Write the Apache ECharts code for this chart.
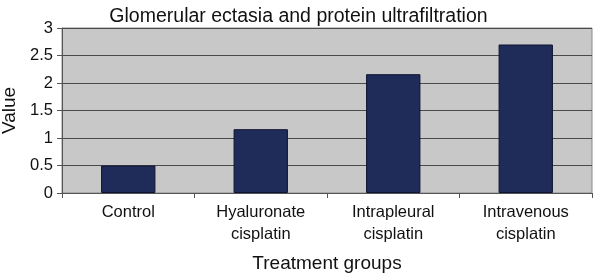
<!DOCTYPE html>
<html>
<head>
<meta charset="utf-8">
<script src="https://cdn.jsdelivr.net/npm/echarts@6/dist/echarts.min.js"></script>
<style>
  html, body { margin: 0; padding: 0; background: #fff; }
  #echartDiv { width: 597px; height: 277px; }
</style>
</head>
<body>
<div id="echartDiv"></div>
<script>
// data
const categories = ["Control", "Hyaluronate\ncisplatin", "Intrapleural\ncisplatin", "Intravenous\ncisplatin"];
const values = [0.5, 1.16, 2.16, 2.7];
const yTicks = [0, 0.5, 1, 1.5, 2, 2.5, 3];

let chartDom = document.getElementById("echartDiv");
let myChart = echarts.init(chartDom);
let font = "Liberation Sans, Arial, sans-serif";
let option = {
  backgroundColor: "#fff",
  animation: false,
  title: {
    text: "Glomerular ectasia and protein ultrafiltration",
    left: "center",
    top: 2,
    textStyle: { color: "#111", fontSize: 19.5, fontWeight: "normal", fontFamily: font },
  },
  grid: {
    top: 28,
    left: 62,
    right: 5,
    bottom: 84,
    outerBoundsMode: "none",
    containLabel: false,
    show: true,
    backgroundColor: "#c8c8c8",
    borderColor: "#8a8a8a",
    borderWidth: 1,
  },
  xAxis: {
    type: "category",
    data: categories,
    name: "Treatment groups",
    nameLocation: "middle",
    nameGap: 61,
    nameTextStyle: { color: "#111", fontSize: 19, fontFamily: font },
    axisLine: { lineStyle: { color: "#555" } },
    axisTick: { show: true, length: 5, lineStyle: { color: "#555" } },
    axisLabel: { color: "#111", fontSize: 16.5, fontFamily: font, margin: 8, lineHeight: 22 },
  },
  yAxis: {
    type: "value",
    min: yTicks[0],
    max: yTicks[yTicks.length - 1],
    interval: 0.5,
    name: "Value",
    nameLocation: "middle",
    nameGap: 42,
    nameTextStyle: { color: "#111", fontSize: 19, fontFamily: font },
    axisLine: { show: true, lineStyle: { color: "#555" } },
    axisTick: { show: true, length: 5, lineStyle: { color: "#555" } },
    axisLabel: { color: "#111", fontSize: 16.5, fontFamily: font, margin: 9 },
    splitLine: { lineStyle: { color: "#4a4a4a", width: 1 } },
  },
  series: [
    {
      type: "bar",
      data: values,
      barWidth: "41%",
      itemStyle: { color: "#1f2c5a", borderColor: "#0e1430", borderWidth: 1 },
    },
  ],
};
option && myChart.setOption(option);
</script>
</body>
</html>
